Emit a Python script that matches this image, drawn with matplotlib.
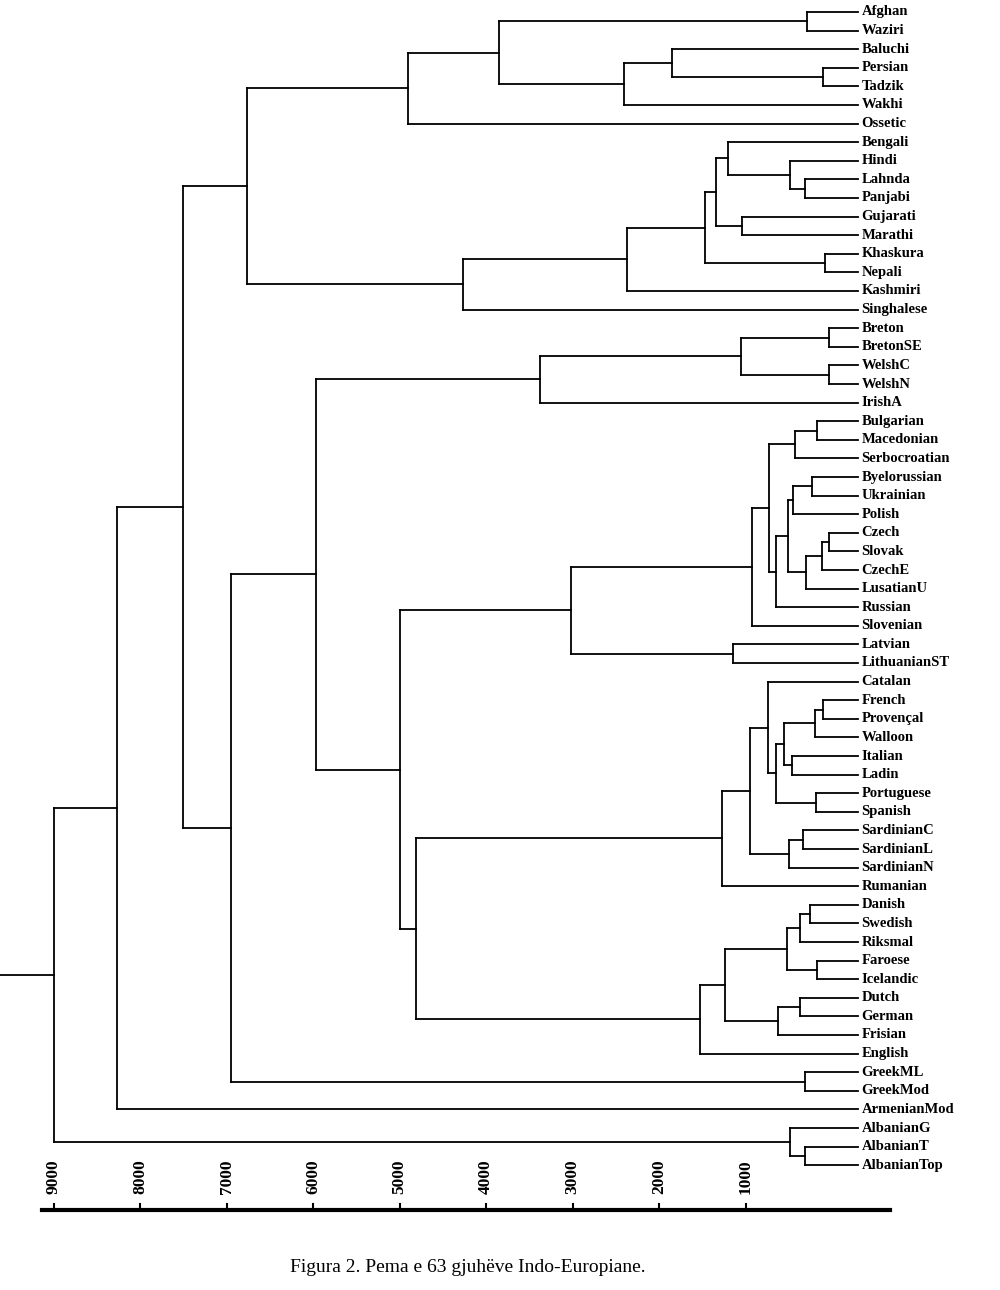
import matplotlib.pyplot as plt

leaves = ["Afghan","Waziri","Baluchi","Persian","Tadzik","Wakhi","Ossetic","Bengali","Hindi","Lahnda",
          "Panjabi","Gujarati","Marathi","Khaskura","Nepali","Kashmiri","Singhalese","Breton","BretonSE",
          "WelshC","WelshN","IrishA","Bulgarian","Macedonian","Serbocroatian","Byelorussian","Ukrainian",
          "Polish","Czech","Slovak","CzechE","LusatianU","Russian","Slovenian","Latvian","LithuanianST",
          "Catalan","French","Provençal","Walloon","Italian","Ladin","Portuguese","Spanish","SardinianC",
          "SardinianL","SardinianN","Rumanian","Danish","Swedish","Riksmal","Faroese","Icelandic","Dutch",
          "German","Frisian","English","GreekML","GreekMod","ArmenianMod","AlbanianG","AlbanianT","AlbanianTop"]

# merges: (new node, child a, child b, age in years)
merges = [
    ("afw","Afghan","Waziri",290), ("pt","Persian","Tadzik",100), ("bpt","Baluchi","pt",1850),
    ("bptw","bpt","Wakhi",2400), ("ir1","afw","bptw",3850), ("iran","ir1","Ossetic",4900),
    ("lp","Lahnda","Panjabi",310), ("hlp","Hindi","lp",490), ("bhlp","Bengali","hlp",1200),
    ("gm","Gujarati","Marathi",1040), ("in1","bhlp","gm",1340), ("kn","Khaskura","Nepali",80),
    ("in2","in1","kn",1470), ("in3","in2","Kashmiri",2370), ("ind","in3","Singhalese",4270),
    ("indoir","iran","ind",6760),
    ("br","Breton","BretonSE",30), ("we","WelshC","WelshN",30), ("brw","br","we",1050),
    ("celt","brw","IrishA",3380),
    ("bm","Bulgarian","Macedonian",170), ("sth","bm","Serbocroatian",430),
    ("bu","Byelorussian","Ukrainian",230), ("bup","bu","Polish",450),
    ("cs","Czech","Slovak",30), ("csc","cs","CzechE",120), ("cscl","csc","LusatianU",300),
    ("we2","bup","cscl",510), ("we3","we2","Russian",650), ("sl1","sth","we3",730),
    ("slav","sl1","Slovenian",925), ("balt","Latvian","LithuanianST",1140), ("bs","slav","balt",3020),
    ("fp","French","Provençal",100), ("fpw","fp","Walloon",200), ("il","Italian","Ladin",460),
    ("r1","fpw","il",560), ("ps","Portuguese","Spanish",190), ("r2","r1","ps",650),
    ("r3","Catalan","r2",740), ("sa","SardinianC","SardinianL",340), ("sard","sa","SardinianN",500),
    ("r4","r3","sard",950), ("rom","r4","Rumanian",1270),
    ("ds","Danish","Swedish",250), ("dsr","ds","Riksmal",370), ("fi","Faroese","Icelandic",170),
    ("nord","dsr","fi",520), ("dg","Dutch","German",370), ("dgf","dg","Frisian",620),
    ("g1","nord","dgf",1240), ("germ","g1","English",1530),
    ("rg","rom","germ",4810), ("bsrg","bs","rg",5000), ("cbsrg","celt","bsrg",5970),
    ("gr","GreekML","GreekMod",310), ("wst","cbsrg","gr",6950), ("ie1","indoir","wst",7500),
    ("ie2","ie1","ArmenianMod",8270), ("at","AlbanianT","AlbanianTop",310),
    ("alb","AlbanianG","at",490), ("root","ie2","alb",9000),
]
tick_years = [9000, 8000, 7000, 6000, 5000, 4000, 3000, 2000, 1000]
caption = "Figura 2. Pema e 63 gjuhëve Indo-Europiane."

PX = 0.0865          # pixels per year
X0 = 832             # pixel of year 0
LEAF_END = -300      # leaves extend a bit past 0

fig = plt.figure(figsize=(10, 12.9), dpi=100)
ax = fig.add_axes([0, 0, 1, 1])
ax.set_xlim(X0 / PX, (X0 - 1000) / PX)
ax.set_ylim(1290, 0)
ax.axis("off")

ypos = {n: 12 + i * 18.6 for i, n in enumerate(leaves)}
age = {n: LEAF_END for n in leaves}
lw = 1.3
for node, a, b, t in merges:
    for c in (a, b):
        ax.plot([t, age[c]], [ypos[c], ypos[c]], color="black", lw=lw)
    ax.plot([t, t], [ypos[a], ypos[b]], color="black", lw=lw)
    ypos[node] = (ypos[a] + ypos[b]) / 2
    age[node] = t
ax.plot([X0 / PX, 9000], [ypos["root"]] * 2, color="black", lw=lw)

for n in leaves:
    ax.text(LEAF_END - 40, ypos[n], n, ha="left", va="center", fontsize=10.5,
            family="Liberation Serif", fontweight="bold")

# scale bar
bar_y = 1210
ax.plot([(X0 - 42) / PX, (X0 - 890) / PX], [bar_y, bar_y], color="black", lw=3)
for t in tick_years:
    ax.plot([t, t], [bar_y, bar_y - 6], color="black", lw=1.5)
    ax.text(t, 1177, str(t), rotation=90, ha="center", va="center", fontsize=12.5,
            family="Liberation Serif", fontweight="bold")

ax.text((X0 - 468) / PX, 1268, caption, ha="center", va="center", fontsize=14,
        family="Liberation Serif")

fig.savefig("out.png", dpi=100)
